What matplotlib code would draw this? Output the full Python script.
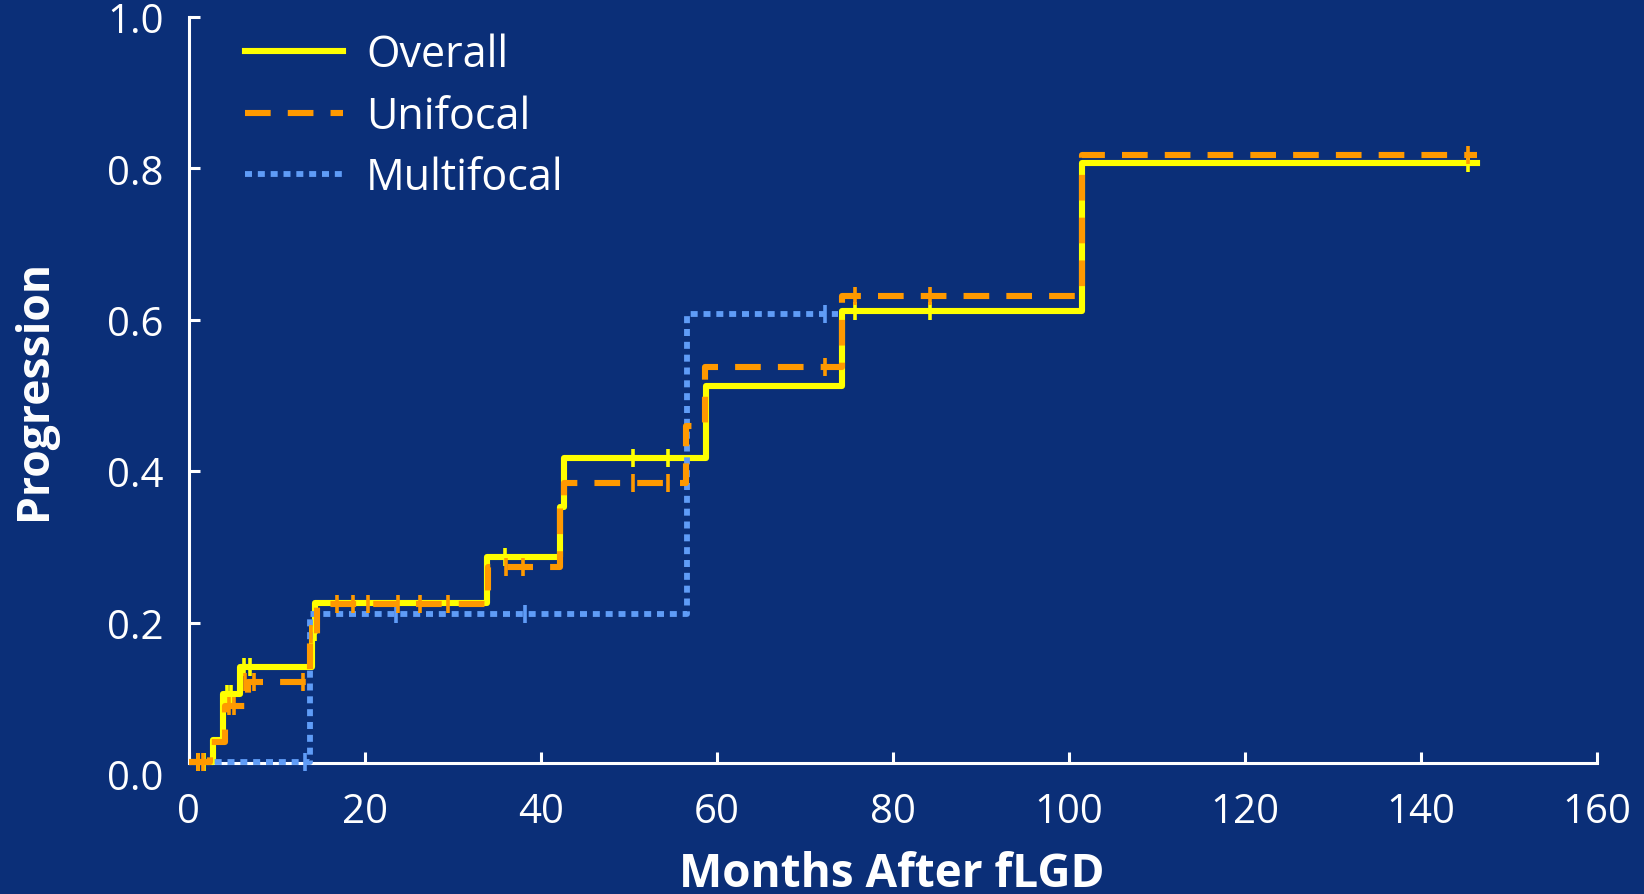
import matplotlib
matplotlib.use("Agg")
import matplotlib.pyplot as plt

plt.rcParams['font.family'] = ['Open Sans', 'DejaVu Sans']

BG = '#0b2f78'
YELLOW = '#ffff00'
ORANGE = '#ff9900'
BLUE = '#5f9cf7'

# step curves (months after fLGD, progression)
overall_t = [0, 2.8, 3.9, 5.8, 14.0, 14.4, 33.9, 42.2, 42.7, 58.8, 74.2, 101.5, 146.4]
overall_v = [0.016, 0.045, 0.106, 0.141, 0.188, 0.226, 0.287, 0.353, 0.417, 0.513, 0.611, 0.807, 0.807]

unifocal_t = [0, 2.4, 4.1, 6.7, 13.8, 14.6, 34.0, 42.2, 42.7, 56.5, 58.7, 74.2, 101.5, 146.4]
unifocal_v = [0.016, 0.042, 0.090, 0.121, 0.185, 0.225, 0.274, 0.353, 0.384, 0.460, 0.537, 0.632, 0.818, 0.818]

multifocal_t = [0, 13.8, 56.6, 73.8]
multifocal_v = [0.016, 0.211, 0.608, 0.608]

# censored observations
overall_cens_t = [1.1, 1.7, 4.3, 4.8, 6.3, 7.0, 13.9, 14.3, 35.9, 50.5, 54.5, 75.7, 84.2, 145.4]
overall_cens_v = [0.016, 0.016, 0.106, 0.106, 0.141, 0.141, 0.188, 0.188, 0.287, 0.417, 0.417, 0.611, 0.611, 0.807]

unifocal_cens_t = [1.0, 1.6, 4.6, 5.2, 6.4, 7.4, 13.0, 13.9, 16.8, 18.7, 20.4, 23.8, 26.3, 29.5,
                   36.1, 38.0, 50.5, 54.5, 72.3, 75.7, 84.2, 145.4]
unifocal_cens_v = [0.016, 0.016, 0.090, 0.090, 0.121, 0.121, 0.121, 0.185, 0.225, 0.225, 0.225, 0.225, 0.225, 0.225,
                   0.274, 0.274, 0.384, 0.384, 0.537, 0.632, 0.632, 0.818]

multifocal_cens_t = [13.2, 23.6, 38.2, 72.3]
multifocal_cens_v = [0.016, 0.211, 0.211, 0.608]

x_ticks = [0, 20, 40, 60, 80, 100, 120, 140, 160]
y_ticks = [0.0, 0.2, 0.4, 0.6, 0.8, 1.0]

AXIS_Y = 0.014  # the x axis line sits a little above 0.0 in the original

fig = plt.figure(figsize=(16.44, 8.95), dpi=100, facecolor=BG)
ax = fig.add_axes([0.1148, 0.1341, 0.8564, 0.8458], facecolor=BG)

l_all, = ax.plot(overall_t, overall_v, drawstyle='steps-post', color=YELLOW, lw=4.4,
                 zorder=3, label='Overall')
l_multi, = ax.plot(multifocal_t, multifocal_v, drawstyle='steps-post', color=BLUE, lw=4.2,
                   linestyle=(0, (1.2, 1.0)), dash_capstyle='butt', zorder=4, label='Multifocal')
l_uni, = ax.plot(unifocal_t, unifocal_v, drawstyle='steps-post', color=ORANGE, lw=4.4,
                 linestyle=(0, (4.2, 2.8)), dash_capstyle='butt', zorder=5, label='Unifocal')

ax.plot(overall_cens_t, overall_cens_v, ls='none', marker='|', ms=13, mew=2.6, color=YELLOW, zorder=3)
ax.plot(multifocal_cens_t, multifocal_cens_v, ls='none', marker='|', ms=13, mew=2.6, color=BLUE, zorder=4)
ax.plot(unifocal_cens_t, unifocal_cens_v, ls='none', marker='|', ms=13, mew=2.6, color=ORANGE, zorder=5)

ax.set_xlim(0, 160)
ax.set_ylim(0, 1.0)
ax.set_xticks(x_ticks)
ax.set_yticks(y_ticks)
ax.set_yticklabels([f'{v:.1f}' for v in y_ticks])

for s in ['top', 'right']:
    ax.spines[s].set_visible(False)
for s in ['left', 'bottom']:
    ax.spines[s].set_color('white')
    ax.spines[s].set_linewidth(2.2)
ax.spines['bottom'].set_position(('data', AXIS_Y))
ax.spines['left'].set_bounds(AXIS_Y, 1.0)

ax.tick_params(direction='in', length=8, width=2.2, colors='white', labelsize=29)
ax.tick_params(axis='x', pad=20)
ax.tick_params(axis='y', pad=18)
ax.yaxis.get_major_ticks()[0].tick1line.set_visible(False)

leg = ax.legend(handles=[l_all, l_uni, l_multi], loc='upper left', bbox_to_anchor=(0.04, 0.979),
                frameon=False, fontsize=31, handlelength=2.27, handletextpad=0.54,
                labelspacing=0.39, borderpad=0, borderaxespad=0)
for t in leg.get_texts():
    t.set_color('white')

fig.text(892 / 1644, 8 / 895, 'Months After fLGD', ha='center', va='baseline',
         fontsize=33, fontweight='bold', color='white')
fig.text(46 / 1644, 1 - 390 / 895, 'Progression', ha='center', va='baseline', rotation=90,
         rotation_mode='anchor', fontsize=32, fontweight='bold', color='white')

fig.savefig('out.png', dpi=100, facecolor=BG)
